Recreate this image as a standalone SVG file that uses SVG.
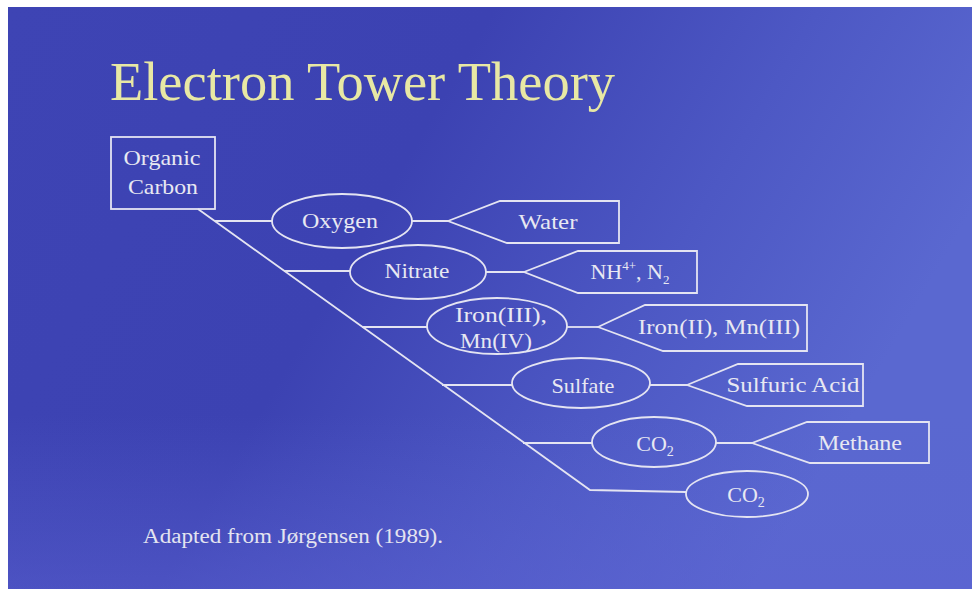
<svg xmlns="http://www.w3.org/2000/svg" width="972" height="589" viewBox="0 0 972 589">
  <defs>
    <linearGradient id="bg" x1="0" y1="0" x2="1" y2="0.35">
      <stop offset="0" stop-color="#3e44b4"/>
      <stop offset="0.45" stop-color="#3c42b2"/>
      <stop offset="0.75" stop-color="#4d58c4"/>
      <stop offset="1" stop-color="#5a68d0"/>
    </linearGradient>
    <linearGradient id="bg2" x1="0" y1="0" x2="0" y2="1">
      <stop offset="0" stop-color="#5a64d0" stop-opacity="0"/>
      <stop offset="0.7" stop-color="#5a64d0" stop-opacity="0"/>
      <stop offset="1" stop-color="#5c62d2" stop-opacity="0.5"/>
    </linearGradient>
    <style>
      .ln { fill: none; stroke: #e4e4f2; stroke-width: 1.8; }
      .shape { fill: none; stroke: #e4e4f2; stroke-width: 1.8; }
      .t { font-family: "Liberation Serif", "Times New Roman", serif; font-size: 22px; fill: #e8e8f2; text-anchor: middle; }
      .title { font-family: "Liberation Serif", "Times New Roman", serif; font-size: 54px; fill: #e8e8a4; }
      .foot { font-family: "Liberation Serif", "Times New Roman", serif; font-size: 20px; fill: #e4e4f0; }
    </style>
  </defs>
  <rect x="0" y="0" width="972" height="589" fill="#ffffff"/>
  <rect x="8" y="7" width="964" height="582" fill="url(#bg)"/>
  <rect x="8" y="7" width="964" height="582" fill="url(#bg2)"/>

  <text class="title" x="110" y="100" textLength="505" lengthAdjust="spacingAndGlyphs">Electron Tower Theory</text>

  <g id="connectors">
    <polyline class="ln" points="198,209 590,490 686,492"/>
    <line class="ln" x1="215" y1="221" x2="272" y2="221"/>
    <line class="ln" x1="284" y1="271" x2="350" y2="271"/>
    <line class="ln" x1="362" y1="327" x2="427" y2="327"/>
    <line class="ln" x1="442" y1="385" x2="512" y2="385"/>
    <line class="ln" x1="523" y1="443" x2="592" y2="443"/>
    <line class="ln" x1="412" y1="221" x2="448" y2="221"/>
    <line class="ln" x1="486" y1="272" x2="524" y2="272"/>
    <line class="ln" x1="567" y1="327" x2="598" y2="327"/>
    <line class="ln" x1="650" y1="385" x2="687" y2="385"/>
    <line class="ln" x1="716" y1="443" x2="752" y2="443"/>
  </g>

  <g id="organic-carbon">
    <rect class="shape" x="111" y="137" width="104" height="72"/>
    <text class="t" x="162" y="165" textLength="77" lengthAdjust="spacingAndGlyphs">Organic</text>
    <text class="t" x="163" y="194" textLength="70" lengthAdjust="spacingAndGlyphs">Carbon</text>
  </g>

  <g id="oxygen">
    <ellipse class="shape" cx="342" cy="221" rx="70" ry="27"/>
    <text class="t" x="340" y="228" textLength="76" lengthAdjust="spacingAndGlyphs">Oxygen</text>
  </g>
  <g id="water">
    <path class="shape" d="M448,221 L500,201 L619,201 L619,243 L507,243 Z"/>
    <text class="t" x="548" y="229" textLength="59" lengthAdjust="spacingAndGlyphs">Water</text>
  </g>

  <g id="nitrate">
    <ellipse class="shape" cx="418" cy="272" rx="68" ry="27"/>
    <text class="t" x="417" y="278" textLength="65" lengthAdjust="spacingAndGlyphs">Nitrate</text>
  </g>
  <g id="ammonium">
    <path class="shape" d="M524,272 L578,251 L697,251 L697,293 L578,293 Z"/>
    <text class="t" x="630" y="279">NH<tspan font-size="13" dy="-9">4+</tspan><tspan dy="9">, N</tspan><tspan font-size="13" dy="5">2</tspan></text>
  </g>

  <g id="iron-iii">
    <ellipse class="shape" cx="497" cy="326" rx="70" ry="28"/>
    <text class="t" x="501" y="322" textLength="92" lengthAdjust="spacingAndGlyphs">Iron(III),</text>
    <text class="t" x="496" y="348" textLength="72" lengthAdjust="spacingAndGlyphs">Mn(IV)</text>
  </g>
  <g id="iron-ii">
    <path class="shape" d="M598,327 L645,305 L807,305 L807,351 L663,351 Z"/>
    <text class="t" x="719" y="334" textLength="162" lengthAdjust="spacingAndGlyphs">Iron(II), Mn(III)</text>
  </g>

  <g id="sulfate">
    <ellipse class="shape" cx="581" cy="383" rx="69" ry="25"/>
    <text class="t" x="583" y="393" textLength="63" lengthAdjust="spacingAndGlyphs">Sulfate</text>
  </g>
  <g id="sulfuric-acid">
    <path class="shape" d="M687,385 L738,364 L863,364 L863,406 L747,406 Z"/>
    <text class="t" x="793" y="392" textLength="133" lengthAdjust="spacingAndGlyphs">Sulfuric Acid</text>
  </g>

  <g id="co2-a">
    <ellipse class="shape" cx="654" cy="442" rx="62" ry="25"/>
    <text class="t" x="655" y="451">CO<tspan font-size="14" dy="5">2</tspan></text>
  </g>
  <g id="methane">
    <path class="shape" d="M752,443 L807,422 L929,422 L929,463 L810,463 Z"/>
    <text class="t" x="860" y="450" textLength="84" lengthAdjust="spacingAndGlyphs">Methane</text>
  </g>

  <g id="co2-b">
    <ellipse class="shape" cx="747" cy="494" rx="61" ry="23"/>
    <text class="t" x="746" y="502">CO<tspan font-size="14" dy="5">2</tspan></text>
  </g>

  <text class="foot" x="143" y="543" textLength="300" lengthAdjust="spacingAndGlyphs">Adapted from Jørgensen (1989).</text>
</svg>
